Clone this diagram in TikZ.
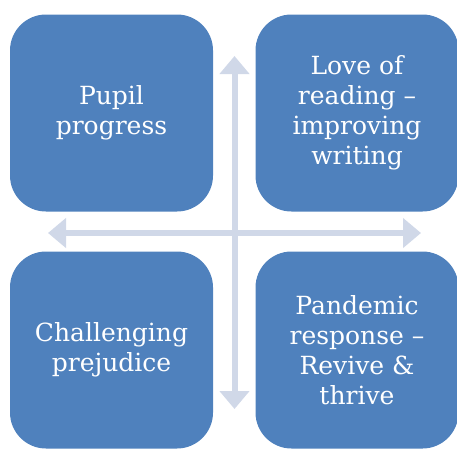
\documentclass[tikz,border=0pt]{standalone}
\usepackage{fontspec}
\newfontfamily\quadfont{DejaVu Serif}
\usepackage{xcolor}
\usepackage{tikz}
\usetikzlibrary{arrows.meta}
\definecolor{quadblue}{HTML}{4F81BD}
\definecolor{crossgrey}{HTML}{D0D8E8}

\begin{document}
\begin{tikzpicture}[x=1pt, y=-1pt]
 	  \tikzstyle{quad}=[fill=quadblue, rounded corners=36pt, minimum width=203pt, minimum height=197pt, inner sep=0pt, align=center, text=white, font=\quadfont\fontsize{25}{30}\selectfont]
 	  \tikzstyle{cross}=[crossgrey, line width=6pt, {Triangle[width=29pt,length=18pt]}-{Triangle[width=29pt,length=18pt]}]
\useasboundingbox (0,0) rectangle (457,448);
\foreach \nm/\cx/\cy/\txt in {pupil/111.5/113/{Pupil\\progress},
    reading/357/113/{Love of\\reading –\\improving\\writing},
    prejudice/111.5/350/{Challenging\\prejudice},
    pandemic/357/350/{Pandemic\\response –\\Revive \&\\thrive}}{
    \node[quad] (q_\nm) at (\cx,\cy) {\txt};
      }
    \coordinate (up) at (234.5,56);
    \coordinate (down) at (234.5,409);
    \coordinate (west) at (48,233);
    \coordinate (east) at (421,233);
\draw[cross] (up) -- (down);
\draw[cross] (west) -- (east);
   \end{tikzpicture}
\end{document}
